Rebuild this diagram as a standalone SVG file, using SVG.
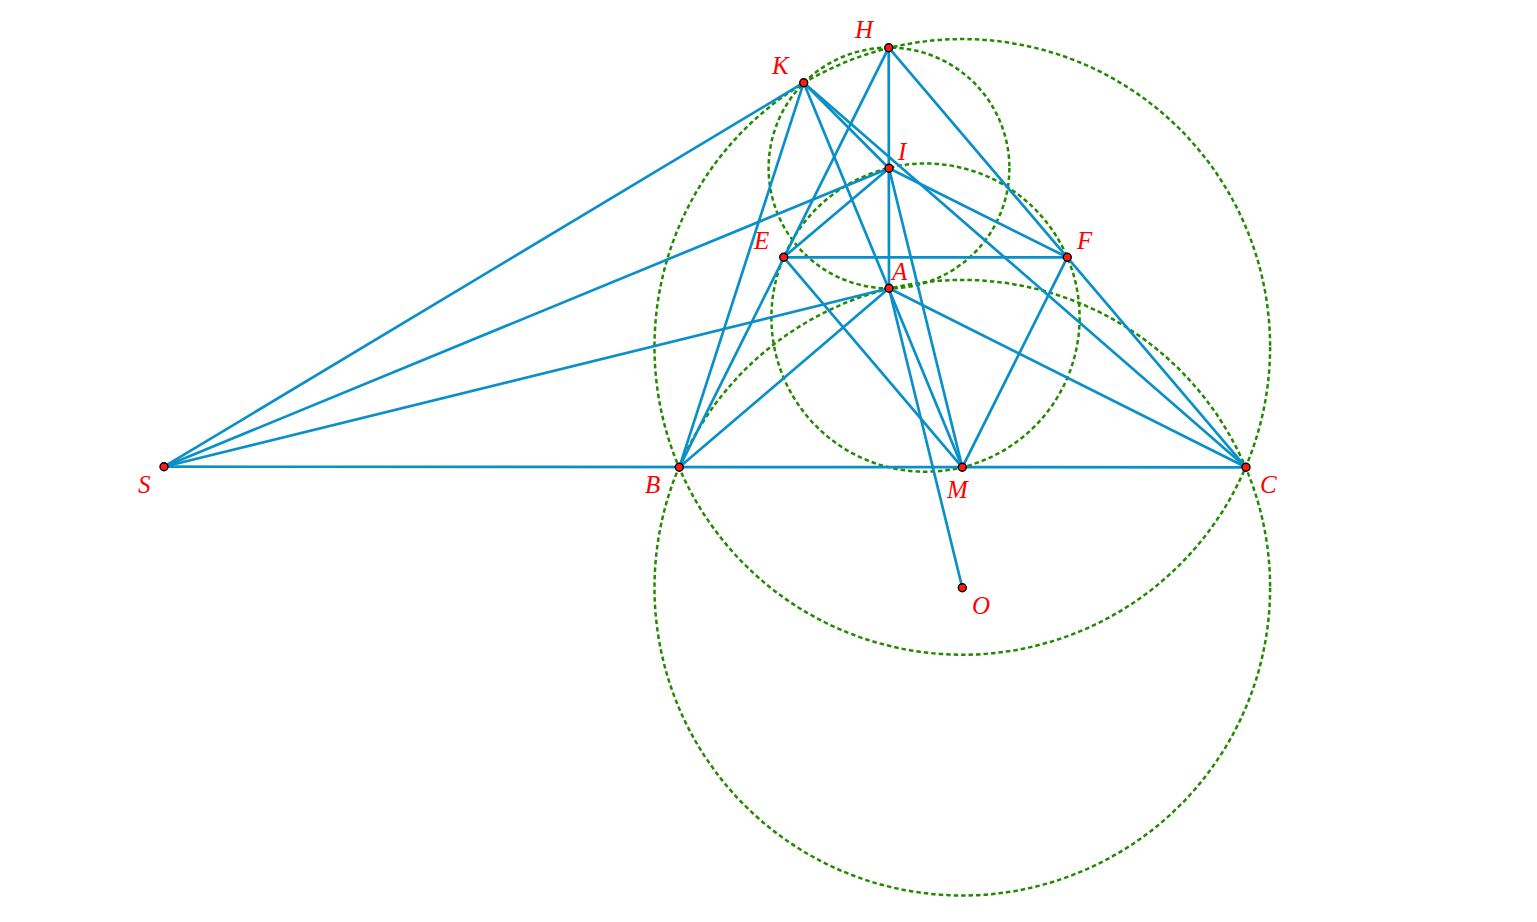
<svg xmlns="http://www.w3.org/2000/svg" width="1537" height="922" viewBox="0 0 1537 922">
<style>
.c{fill:none;stroke:#238a00;stroke-width:2.5;stroke-dasharray:4.5 3}
.l{stroke:#0a90c8;stroke-width:2.7;stroke-linecap:round}
.p{fill:#ff1a1a;stroke:#000;stroke-width:1.4}
.t{fill:#ff0000;font-family:"Liberation Serif",serif;font-style:italic;font-size:25px}
</style>
<rect width="1537" height="922" fill="#fff"/>
<g id="circles">
<circle class="c" cx="962.3" cy="346.9" r="307.8"/>
<circle class="c" cx="962.3" cy="587.7" r="307.8"/>
<circle class="c" cx="925.5" cy="317.6" r="154.1"/>
<circle class="c" cx="889" cy="168" r="120.4"/>
</g>
<g id="connectors">
<line class="l" x1="164" y1="466.7" x2="1246" y2="467.3"/>
<line class="l" x1="164" y1="466.7" x2="803.7" y2="82.7"/>
<line class="l" x1="164" y1="466.7" x2="889" y2="168.3"/>
<line class="l" x1="164" y1="466.7" x2="889" y2="288.3"/>
<line class="l" x1="679.3" y1="467.3" x2="803.7" y2="82.7"/>
<line class="l" x1="679.3" y1="467.3" x2="888.7" y2="47.7"/>
<line class="l" x1="679.3" y1="467.3" x2="889" y2="288.3"/>
<line class="l" x1="1246" y1="467.3" x2="888.7" y2="47.7"/>
<line class="l" x1="1246" y1="467.3" x2="803.7" y2="82.7"/>
<line class="l" x1="1246" y1="467.3" x2="889" y2="288.3"/>
<line class="l" x1="888.7" y1="47.7" x2="889" y2="288.3"/>
<line class="l" x1="803.7" y1="82.7" x2="962.3" y2="467.3"/>
<line class="l" x1="803.7" y1="82.7" x2="889" y2="168.3"/>
<line class="l" x1="889" y1="168.3" x2="783.7" y2="257.3"/>
<line class="l" x1="889" y1="168.3" x2="1067.3" y2="257.3"/>
<line class="l" x1="889" y1="168.3" x2="962.3" y2="467.3"/>
<line class="l" x1="783.7" y1="257.3" x2="1067.3" y2="257.3"/>
<line class="l" x1="783.7" y1="257.3" x2="962.3" y2="467.3"/>
<line class="l" x1="1067.3" y1="257.3" x2="962.3" y2="467.3"/>
<line class="l" x1="889" y1="288.3" x2="962.3" y2="587.7"/>
</g>
<g id="S"><circle class="p" cx="164" cy="466.7" r="4"/><text class="t" x="138" y="493">S</text></g>
<g id="B"><circle class="p" cx="679.3" cy="467.3" r="4"/><text class="t" x="645" y="493">B</text></g>
<g id="M"><circle class="p" cx="962.3" cy="467.3" r="4"/><text class="t" x="947" y="498">M</text></g>
<g id="C"><circle class="p" cx="1246" cy="467.3" r="4"/><text class="t" x="1260" y="493">C</text></g>
<g id="O"><circle class="p" cx="962.3" cy="587.7" r="4"/><text class="t" x="972" y="614">O</text></g>
<g id="A"><circle class="p" cx="889" cy="288.3" r="4"/><text class="t" x="892" y="280">A</text></g>
<g id="E"><circle class="p" cx="783.7" cy="257.3" r="4"/><text class="t" x="754" y="249">E</text></g>
<g id="F"><circle class="p" cx="1067.3" cy="257.3" r="4"/><text class="t" x="1077" y="249">F</text></g>
<g id="I"><circle class="p" cx="889" cy="168.3" r="4"/><text class="t" x="898" y="160">I</text></g>
<g id="H"><circle class="p" cx="888.7" cy="47.7" r="4"/><text class="t" x="855" y="38">H</text></g>
<g id="K"><circle class="p" cx="803.7" cy="82.7" r="4"/><text class="t" x="772" y="74">K</text></g>
</svg>
